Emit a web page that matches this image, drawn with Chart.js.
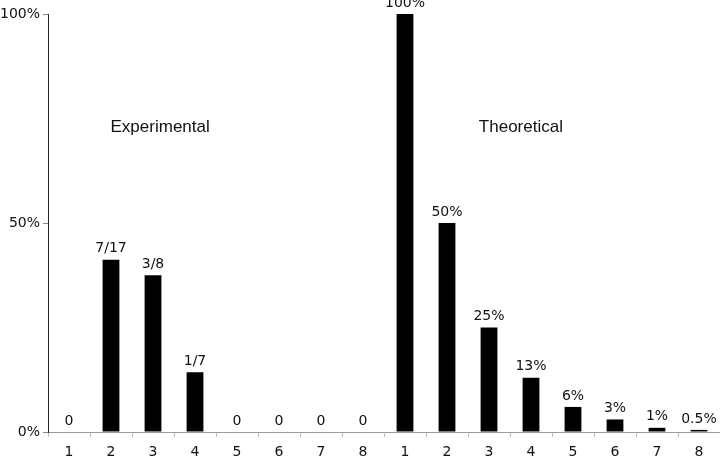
<!DOCTYPE html>
<html>
<head>
<meta charset="utf-8">
<script src="https://cdn.jsdelivr.net/npm/chart.js@4/dist/chart.umd.min.js"></script>
<style>
  html, body { margin: 0; padding: 0; background: #fff; }
  #wrap { width: 720px; height: 460px; }
</style>
</head>
<body>
<div id="wrap"><canvas id="mychart"></canvas></div>
<script>
const categories = ["1","2","3","4","5","6","7","8","1","2","3","4","5","6","7","8"];
const experimental = [0, 41.2, 37.5, 14.3, 0, 0, 0, 0];
const theoretical = [100, 50, 25, 13, 6, 3, 1, 0.5];
const barLabels = ["0","7/17","3/8","1/7","0","0","0","0","100%","50%","25%","13%","6%","3%","1%","0.5%"];
const yTicks = [0, 50, 100];

const values = experimental.concat(theoretical);
const numFont = "14px 'DejaVu Sans'";

// labels above bars + the two group captions
const labelPlugin = {
  id: "barLabels",
  afterDatasetsDraw(chart) {
    const ctx = chart.ctx;
    const meta = chart.getDatasetMeta(0);
    ctx.save();
    ctx.fillStyle = "#111";
    ctx.font = numFont;
    ctx.textAlign = "center";
    ctx.textBaseline = "bottom";
    meta.data.forEach((bar, i) => {
      ctx.fillText(barLabels[i], bar.x, bar.y - 4);
    });
    const xs = chart.scales.x, ys = chart.scales.y;
    ctx.font = "17px 'Liberation Sans'";
    ctx.textBaseline = "middle";
    ctx.fillText("Experimental", xs.getPixelForValue(2.17), ys.getPixelForValue(73));
    ctx.fillText("Theoretical", xs.getPixelForValue(10.76), ys.getPixelForValue(73));
    ctx.restore();
  }
};

new Chart("mychart", {
  type: "bar",
  data: {
    labels: categories,
    datasets: [{
      data: values,
      backgroundColor: "#000",
      barPercentage: 0.4,
      categoryPercentage: 1.0
    }]
  },
  options: {
    responsive: true,
    maintainAspectRatio: false,
    animation: false,
    layout: { padding: { top: 14, right: 0, left: 0, bottom: 0 } },
    plugins: { legend: { display: false }, tooltip: { enabled: false } },
    scales: {
      x: {
        grid: { display: true, drawOnChartArea: false, drawTicks: true, tickLength: 5, color: "#bbb", offset: true },
        border: { display: true, color: "#999", width: 1 },
        ticks: { color: "#111", font: { family: "DejaVu Sans", size: 14 }, padding: 7, maxRotation: 0, autoSkip: false },
        afterFit(scale) { scale.height = 28; }
      },
      y: {
        min: 0,
        max: 100,
        afterBuildTicks(scale) { scale.ticks = yTicks.map(v => ({ value: v })); },
        grid: { display: true, drawOnChartArea: false, drawTicks: true, tickLength: 5, color: "#888" },
        border: { display: true, color: "#222", width: 1 },
        ticks: { color: "#111", font: { family: "DejaVu Sans", size: 14 }, padding: 3, callback: v => v + "%" },
        afterFit(scale) { scale.width = 48; }
      }
    }
  },
  plugins: [labelPlugin]
});
</script>
</body>
</html>
